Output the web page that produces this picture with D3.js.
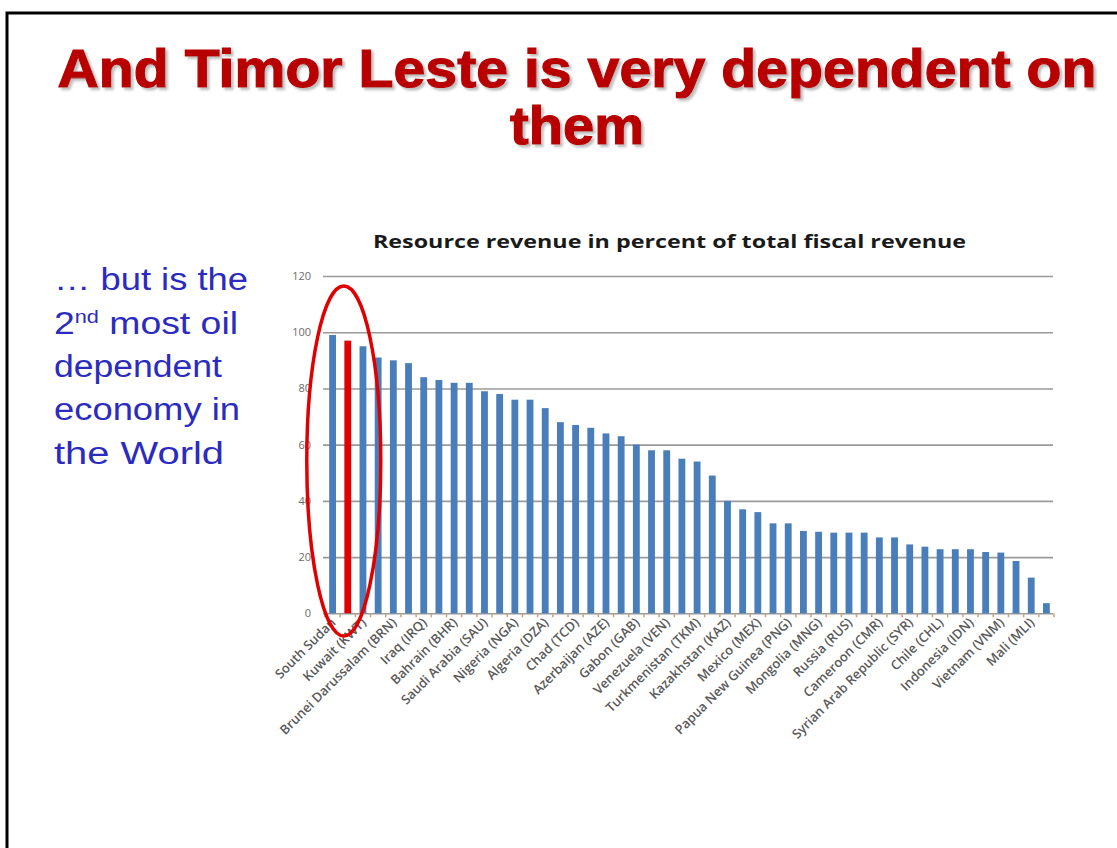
<!DOCTYPE html>
<html>
<head>
<meta charset="utf-8">
<script src="https://cdn.jsdelivr.net/npm/d3@7"></script>
<style>
  html, body { margin: 0; padding: 0; background: #ffffff; }
  svg { display: block; }
</style>
</head>
<body>
<svg id="chart" width="1117" height="848"></svg>
<script>
// ---- data ----
const categories = [
  "South Sudan", "Timor-Leste", "Kuwait (KWT)", "", "Brunei Darussalam (BRN)", "",
  "Iraq (IRQ)", "", "Bahrain (BHR)", "", "Saudi Arabia (SAU)", "",
  "Nigeria (NGA)", "", "Algeria (DZA)", "", "Chad (TCD)", "",
  "Azerbaijan (AZE)", "", "Gabon (GAB)", "", "Venezuela (VEN)", "",
  "Turkmenistan (TKM)", "", "Kazakhstan (KAZ)", "", "Mexico (MEX)", "",
  "Papua New Guinea (PNG)", "", "Mongolia (MNG)", "", "Russia (RUS)", "",
  "Cameroon (CMR)", "", "Syrian Arab Republic (SYR)", "", "Chile (CHL)", "",
  "Indonesia (IDN)", "", "Vietnam (VNM)", "", "Mali (MLI)", ""
];
const values = [
  99, 97, 95, 91, 90, 89, 84, 83, 82, 82, 79, 78,
  76, 76, 73, 68, 67, 66, 64, 63, 60, 58, 58, 55,
  54, 49, 40, 37, 36, 32, 32, 29.3, 29, 28.7, 28.7, 28.7,
  27, 27, 24.5, 23.7, 22.8, 22.8, 22.8, 21.8, 21.6, 18.6, 12.7, 3.6
];
const highlightIndex = 1;           // Timor-Leste
const labelEvery = 2;               // every other category is labelled
const yTicks = [0, 20, 40, 60, 80, 100, 120];
const titleLines = ["And Timor Leste is very dependent on", "them"];
const chartTitle = "Resource revenue in percent of total fiscal revenue";
const sideLines = ["\u2026 but is the", "2|nd| most oil", "dependent", "economy in", "the World"];

// ---- drawing ----
const svg = d3.select("#chart");

const defs = svg.append("defs");
const f = defs.append("filter").attr("id", "shadow")
  .attr("x", "-5%").attr("y", "-20%").attr("width", "110%").attr("height", "150%");
f.append("feDropShadow").attr("dx", 2.5).attr("dy", 2.5).attr("stdDeviation", 0.8)
  .attr("flood-color", "#909090").attr("flood-opacity", 0.6);

// slide frame
svg.append("rect")
  .attr("x", 7).attr("y", 13).attr("width", 1300).attr("height", 1000)
  .attr("fill", "none").attr("stroke", "#000").attr("stroke-width", 3);

// main title with shadow
const titleY = [87, 144];
const titleLen = [1039, 134];
titleLines.forEach((t, i) => {
  svg.append("text")
    .attr("x", 577).attr("y", titleY[i])
    .attr("text-anchor", "middle")
    .attr("font-family", "Liberation Sans, Arial, sans-serif")
    .attr("font-weight", "bold").attr("font-size", 54)
    .attr("textLength", titleLen[i]).attr("lengthAdjust", "spacingAndGlyphs")
    .attr("fill", "#b80000").attr("stroke", "#b80000").attr("stroke-width", 1.2)
    .attr("filter", "url(#shadow)")
    .text(t);
});

// side text
const sideY = [290, 334, 377, 420, 464];
const sideLen = [194, 184, 168, 186, 170];
sideLines.forEach((t, i) => {
  const txt = svg.append("text")
    .attr("x", 54).attr("y", sideY[i])
    .attr("font-family", "Liberation Sans, Arial, sans-serif")
    .attr("font-size", 31).attr("fill", "#2b2bbf")
    .attr("textLength", sideLen[i]).attr("lengthAdjust", "spacingAndGlyphs");
  const parts = t.split("|");
  if (parts.length === 1) { txt.text(t); }
  else {
    txt.append("tspan").text(parts[0]);
    txt.append("tspan").attr("dy", -11).attr("font-size", 18).text(parts[1]);
    txt.append("tspan").attr("dy", 11).text(parts[2]);
  }
});

// chart
const x = d3.scaleBand()
  .domain(d3.range(values.length))
  .range([325, 1054])
  .paddingInner(0.55).paddingOuter(0.275);
const y = d3.scaleLinear().domain([0, 120]).range([613.3, 276]);

// chart title
svg.append("text")
  .attr("x", 373).attr("y", 248)
  .attr("font-family", "Open Sans, Liberation Sans, sans-serif")
  .attr("font-weight", "bold").attr("font-size", 18)
  .attr("fill", "#1a1a1a")
  .attr("textLength", 593).attr("lengthAdjust", "spacingAndGlyphs")
  .text(chartTitle);

// gridlines + y labels via axis
const yAxis = d3.axisLeft(y).tickValues(yTicks).tickSize(-(1053 - 323)).tickPadding(12);
const gy = svg.append("g").attr("transform", "translate(323,0)").call(yAxis);
gy.select(".domain").remove();
gy.selectAll(".tick line").attr("stroke", "#9a9a9a").attr("stroke-width", 1.6);
gy.selectAll(".tick text")
  .attr("font-family", "Open Sans, Liberation Sans, sans-serif")
  .attr("font-size", 11).attr("fill", "#6a6a6a");

// bars
svg.append("g").selectAll("rect")
  .data(values)
  .join("rect")
  .attr("x", (d, i) => x(i))
  .attr("width", x.bandwidth())
  .attr("y", d => y(d))
  .attr("height", d => y(0) - y(d))
  .attr("fill", (d, i) => i === highlightIndex ? "#e00000" : "#4a7ebb");

// category tick marks between bars
const step = x.step();
const boundaries = d3.range(values.length + 1).map(i => x.range()[0] + step * x.paddingOuter() - step * x.paddingInner() / 2 + i * step);
svg.append("g").selectAll("line")
  .data(boundaries)
  .join("line")
  .attr("x1", d => d).attr("x2", d => d)
  .attr("y1", y(0)).attr("y2", y(0) + 4)
  .attr("stroke", "#c9a27a").attr("stroke-width", 1.5);

// x labels, rotated
svg.append("g").selectAll("text")
  .data(categories.map((c, i) => ({ c, i })).filter(d => d.i % labelEvery === 0))
  .join("text")
  .attr("transform", d => `translate(${x(d.i) + x.bandwidth() / 2 + 4},${y(0) + 10}) rotate(-45)`)
  .attr("text-anchor", "end")
  .attr("font-family", "Open Sans, Liberation Sans, sans-serif")
  .attr("font-weight", 600)
  .attr("font-size", 13).attr("fill", "#5a5a5a")
  .text(d => d.c);

// red ellipse highlighting the top bars
svg.append("ellipse")
  .attr("cx", x(highlightIndex) + x.bandwidth() / 2 - 4)
  .attr("cy", 461)
  .attr("rx", 37).attr("ry", 175)
  .attr("fill", "none").attr("stroke", "#e00000").attr("stroke-width", 3.5);
</script>
</body>
</html>
